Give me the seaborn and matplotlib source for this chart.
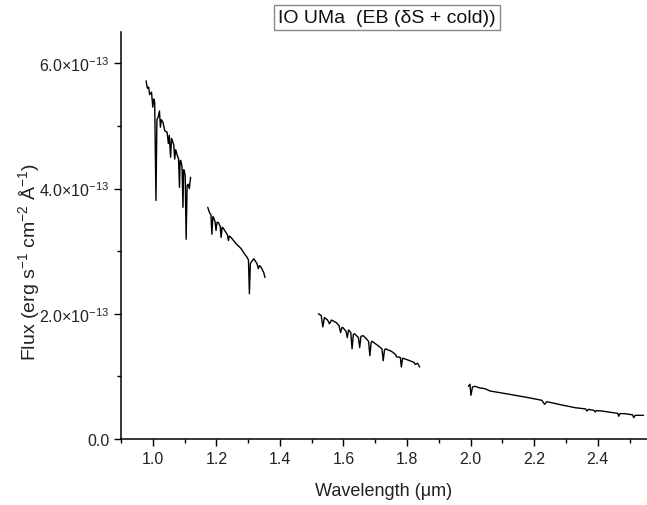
import matplotlib
matplotlib.use("Agg")
import matplotlib.pyplot as plt
import seaborn as sns
import numpy as np
import pandas as pd
from matplotlib.ticker import MultipleLocator, FuncFormatter

# ---- data (wavelength in micron, flux in units of 1e-13 erg/s/cm2/A) ----
seg1_wl = [0.979, 0.983, 0.987, 0.990, 0.996, 1.000, 1.003, 1.006, 1.010, 1.013, 1.017, 1.021, 1.024, 1.027,
           1.032, 1.038, 1.045, 1.049, 1.052, 1.056, 1.059, 1.061, 1.066, 1.069, 1.072, 1.077, 1.081, 1.084,
           1.086, 1.088, 1.092, 1.095, 1.097, 1.099, 1.102, 1.105, 1.108, 1.111, 1.115, 1.119]
seg1_fx = [5.72, 5.60, 5.62, 5.50, 5.54, 5.30, 5.43, 5.38, 3.81, 5.10, 5.14, 5.24, 4.98, 5.10,
           5.06, 4.92, 4.90, 4.72, 4.85, 4.50, 4.80, 4.77, 4.70, 4.47, 4.62, 4.53, 4.48, 4.02,
           4.44, 4.45, 4.35, 3.70, 4.30, 4.29, 4.20, 3.19, 4.05, 4.07, 4.00, 4.18]

seg2_wl = [1.173, 1.178, 1.183, 1.186, 1.189, 1.191, 1.196, 1.199, 1.202, 1.206, 1.212, 1.215,
           1.218, 1.220, 1.230, 1.235, 1.238, 1.241, 1.246, 1.262, 1.278, 1.288, 1.297, 1.301,
           1.304, 1.307, 1.309, 1.318, 1.328, 1.332, 1.336, 1.341, 1.349, 1.353]
seg2_fx = [3.70, 3.62, 3.58, 3.27, 3.55, 3.54, 3.47, 3.33, 3.46, 3.46, 3.40, 3.22,
           3.38, 3.38, 3.30, 3.26, 3.17, 3.24, 3.22, 3.12, 3.04, 2.96, 2.90, 2.86,
           2.32, 2.80, 2.82, 2.88, 2.80, 2.72, 2.77, 2.74, 2.66, 2.58]

seg3_wl = [1.521, 1.530, 1.535, 1.540, 1.550, 1.556, 1.562, 1.577, 1.586, 1.591, 1.595, 1.598,
           1.608, 1.612, 1.616, 1.623, 1.627, 1.631, 1.635, 1.647, 1.651, 1.655, 1.662, 1.672,
           1.679, 1.683, 1.687, 1.690, 1.709, 1.721, 1.725, 1.729, 1.732, 1.751, 1.764, 1.767,
           1.774, 1.779, 1.782, 1.786, 1.793, 1.814, 1.823, 1.826, 1.833, 1.840]
seg3_fx = [2.00, 1.97, 1.79, 1.94, 1.90, 1.84, 1.90, 1.86, 1.81, 1.70, 1.78, 1.78,
           1.72, 1.62, 1.74, 1.70, 1.44, 1.67, 1.68, 1.62, 1.46, 1.64, 1.65, 1.60,
           1.56, 1.33, 1.54, 1.56, 1.49, 1.44, 1.25, 1.42, 1.44, 1.40, 1.35, 1.31,
           1.31, 1.30, 1.15, 1.29, 1.28, 1.24, 1.22, 1.19, 1.21, 1.15]

seg4_wl = [1.993, 1.998, 2.001, 2.006, 2.014, 2.029, 2.045, 2.061, 2.098, 2.140, 2.182, 2.224,
           2.233, 2.240, 2.287, 2.329, 2.362, 2.366, 2.371, 2.389, 2.392, 2.396, 2.413, 2.455,
           2.463, 2.466, 2.470, 2.487, 2.510, 2.513, 2.518, 2.544]
seg4_fx = [0.842, 0.874, 0.698, 0.831, 0.842, 0.815, 0.804, 0.767, 0.735, 0.698, 0.660, 0.618,
           0.554, 0.596, 0.543, 0.500, 0.480, 0.447, 0.474, 0.455, 0.431, 0.452, 0.447, 0.415,
           0.410, 0.363, 0.405, 0.404, 0.385, 0.340, 0.378, 0.378]

x_ticks = [1.0, 1.2, 1.4, 1.6, 1.8, 2.0, 2.2, 2.4]
y_ticks = [0.0, 2.0, 4.0, 6.0]

title_text = "IO UMa  (EB (\u03b4S + cold))"
x_label = "Wavelength (\u03bcm)"
y_label = "Flux (erg s$^{-1}$ cm$^{-2}$ \u00c5$^{-1}$)"

# ---- figure ----
sns.set_style("ticks")
plt.rcParams["font.family"] = ["Liberation Sans", "DejaVu Sans"]
plt.rcParams["mathtext.fontset"] = "custom"
plt.rcParams["mathtext.rm"] = "Liberation Sans"
plt.rcParams["mathtext.it"] = "Liberation Sans:italic"
plt.rcParams["mathtext.bf"] = "Liberation Sans:bold"

fig = plt.figure(figsize=(6.47, 5.06), dpi=100)
ax = fig.add_axes([121 / 647, 66 / 506, 526 / 647, 407 / 506])

segments = [(seg1_wl, seg1_fx), (seg2_wl, seg2_fx), (seg3_wl, seg3_fx), (seg4_wl, seg4_fx)]
for i, (wl, fx) in enumerate(segments):
    df = pd.DataFrame({"wl": wl, "flux": np.array(fx) * 1e-13})
    sns.lineplot(data=df, x="wl", y="flux", ax=ax, color="black", linewidth=1.0,
                 sort=False, estimator=None)

ax.set_xlim(0.9, 2.555)
ax.set_ylim(0, 6.5e-13)
ax.set_xticks(x_ticks)
ax.xaxis.set_minor_locator(MultipleLocator(0.1))
ax.set_yticks([v * 1e-13 for v in y_ticks])
ax.yaxis.set_minor_locator(MultipleLocator(1e-13))


def yfmt(v, pos):
    m = v / 1e-13
    if abs(m) < 1e-9:
        return "0.0"
    return r"$%.1f{\times}10^{-13}$" % m


ax.yaxis.set_major_formatter(FuncFormatter(yfmt))
ax.xaxis.set_major_formatter(FuncFormatter(lambda v, p: "%.1f" % v))

ax.tick_params(axis="both", which="major", direction="out", length=5, width=1,
               labelsize=11.5, color="black", labelcolor="#222222")
ax.tick_params(axis="both", which="minor", direction="out", length=3, width=1, color="black")

for s in ["top", "right"]:
    ax.spines[s].set_visible(False)
for s in ["left", "bottom"]:
    ax.spines[s].set_color("black")
    ax.spines[s].set_linewidth(1.1)

ax.set_xlabel(x_label, fontsize=13, color="#222222")
ax.set_ylabel(y_label, fontsize=14, color="#222222")
ax.xaxis.set_label_coords(0.5, (440 - 483) / 407)
ax.yaxis.set_label_coords((29 - 121) / 526, (440 - 262) / 407)
ax.yaxis.label.set_va("center")
ax.xaxis.label.set_va("top")

fig.text(387 / 647, 1 - 18.5 / 506, title_text, ha="center", va="center", fontsize=14,
         color="#111111",
         bbox=dict(boxstyle="square,pad=0.22", facecolor="white", edgecolor="#888888", linewidth=1))

fig.savefig("out.png", dpi=100)
